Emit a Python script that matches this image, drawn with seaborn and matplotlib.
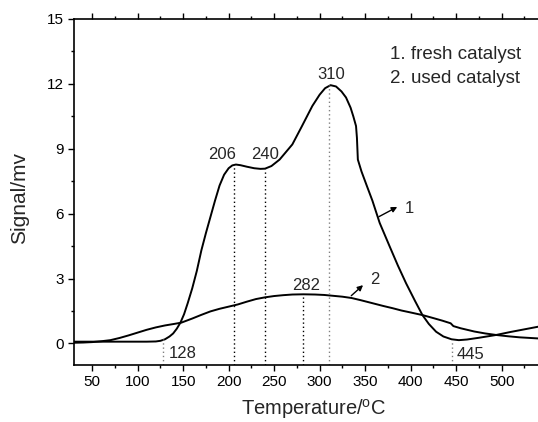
import numpy as np
import pandas as pd
import matplotlib
matplotlib.use("Agg")
import matplotlib.pyplot as plt
from matplotlib.ticker import MultipleLocator
import seaborn as sns

# curve 1: fresh catalyst
fresh_t = [30, 60, 90, 110, 120, 125, 130, 135, 139, 143, 147, 151, 155, 160,
           165, 170, 175, 180, 185, 190, 195, 200, 204, 208, 213, 220, 228, 235,
           240, 247, 256, 262, 270, 280, 292, 300, 306, 312, 318, 324, 329, 334,
           337, 340, 341, 342, 346, 352, 358, 366, 377, 386, 395, 405, 413, 420,
           428, 436, 445, 453, 462, 475, 494, 510, 525, 540]
fresh_v = [0.08, 0.08, 0.08, 0.08, 0.09, 0.12, 0.19, 0.32, 0.46, 0.68, 0.96,
           1.35, 1.86, 2.55, 3.35, 4.3, 5.1, 5.85, 6.6, 7.3, 7.8, 8.1, 8.23,
           8.27, 8.24, 8.17, 8.1, 8.07, 8.08, 8.2, 8.5, 8.8, 9.2, 10.0, 10.98,
           11.5, 11.8, 11.94, 11.88, 11.65, 11.37, 10.9, 10.5, 10.05, 9.5, 8.5,
           7.95, 7.27, 6.6, 5.57, 4.48, 3.6, 2.78, 1.95, 1.31, 0.9, 0.54, 0.32,
           0.19, 0.15, 0.18, 0.26, 0.39, 0.53, 0.65, 0.77]

# curve 2: used catalyst
used_t = [30, 40, 50, 60, 70, 80, 90, 100, 110, 120, 130, 140, 148, 160, 170,
          180, 190, 200, 210, 220, 230, 240, 250, 260, 270, 282, 295, 305, 315,
          325, 335, 345, 358, 370, 380, 390, 400, 413, 425, 435, 444, 447, 455,
          470, 482, 494, 507, 520, 540]
used_v = [0.03, 0.04, 0.06, 0.1, 0.15, 0.25, 0.37, 0.5, 0.63, 0.74, 0.83, 0.9,
          0.96, 1.15, 1.32, 1.48, 1.6, 1.7, 1.8, 1.93, 2.05, 2.13, 2.19, 2.23,
          2.26, 2.27, 2.26, 2.24, 2.2, 2.16, 2.1, 2.0, 1.86, 1.73, 1.63, 1.52,
          1.43, 1.31, 1.17, 1.05, 0.93, 0.8, 0.7, 0.55, 0.46, 0.39, 0.33, 0.28,
          0.23]

# marked temperatures: (label, top of dotted line, colour)
peak_t = [128, 206, 240, 282, 310, 445]
peak_top = [0.2, 8.27, 8.08, 2.27, 11.94, 0.05]
peak_color = ["gray", "black", "black", "black", "gray", "gray"]
label_xy = [(150, -0.45), (193, 8.75), (240, 8.75), (285, 2.68), (313, 12.45), (466, -0.5)]

df = pd.concat([
    pd.DataFrame({"T": fresh_t, "v": fresh_v, "s": "1"}),
    pd.DataFrame({"T": used_t, "v": used_v, "s": "2"}),
])

sns.set_style("ticks")
plt.rcParams["font.family"] = ["Liberation Sans", "DejaVu Sans"]

fig = plt.figure(figsize=(5.38, 4.22), dpi=100)
ax = fig.add_axes([0.1375, 0.135, 0.8625, 0.82])

sns.lineplot(data=df, x="T", y="v", units="s", estimator=None, color="black",
             lw=1.4, ax=ax, legend=False)

for t, top, c in zip(peak_t, peak_top, peak_color):
    ax.plot([t, t], [-1, top], ls=(0, (1, 2)), color=c, lw=1)

for t, (lx, ly) in zip(peak_t, label_xy):
    ax.text(lx, ly, str(t), ha="center", va="center", fontsize=12)

ax.annotate("", xy=(388, 6.37), xytext=(362.5, 5.8),
            arrowprops=dict(arrowstyle="-|>", color="black", lw=1, mutation_scale=8))
ax.text(394, 6.22, "1", ha="left", va="center", fontsize=12)
ax.annotate("", xy=(350, 2.78), xytext=(332.5, 2.12),
            arrowprops=dict(arrowstyle="-|>", color="black", lw=1, mutation_scale=8))
ax.text(356, 2.94, "2", ha="left", va="center", fontsize=12)

ax.text(377, 13.38, "1. fresh catalyst", ha="left", va="center", fontsize=13.5)
ax.text(377, 12.25, "2. used catalyst", ha="left", va="center", fontsize=13.5)

ax.set_xlim(30, 540)
ax.set_ylim(-1, 15)
ax.xaxis.set_major_locator(MultipleLocator(50))
ax.xaxis.set_minor_locator(MultipleLocator(25))
ax.yaxis.set_major_locator(MultipleLocator(3))
ax.yaxis.set_minor_locator(MultipleLocator(1.5))
ax.tick_params(which="major", direction="out", length=4, width=1, labelsize=11,
               color="black", labelcolor="black")
ax.tick_params(which="minor", direction="out", length=2.5, width=1, color="black")
ax.tick_params(axis="x", which="both", top=True)

for side in ["left", "bottom", "top"]:
    ax.spines[side].set_visible(True)
    ax.spines[side].set_color("black")
    ax.spines[side].set_linewidth(1.2)
ax.spines["right"].set_visible(False)

ax.set_xlabel("Temperature/$^\\mathregular{o}$C", fontsize=14.5)
ax.set_ylabel("Signal/mv", fontsize=15)
ax.xaxis.set_label_coords(0.517, -0.092)
ax.yaxis.set_label_coords(-0.097, 0.483)

fig.savefig("out.png", dpi=100)
